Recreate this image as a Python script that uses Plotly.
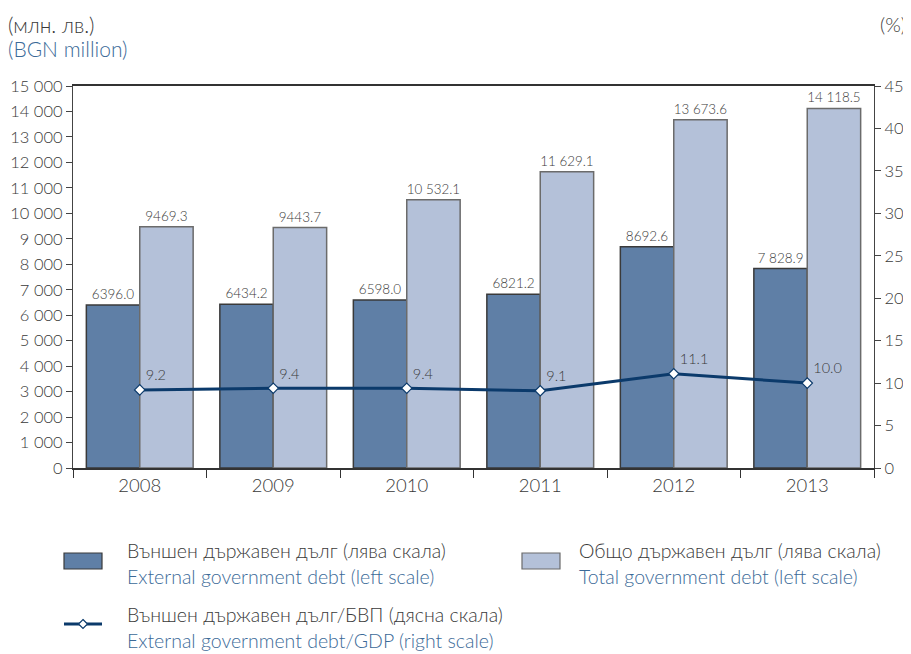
import plotly.graph_objects as go

years = ["2008", "2009", "2010", "2011", "2012", "2013"]
external_debt = [6396.0, 6434.2, 6598.0, 6821.2, 8692.6, 7828.9]
external_labels = ["6396.0", "6434.2", "6598.0", "6821.2", "8692.6", "7 828.9"]
total_debt = [9469.3, 9443.7, 10532.1, 11629.1, 13673.6, 14118.5]
total_labels = ["9469.3", "9443.7", "10 532.1", "11 629.1", "13 673.6", "14 118.5"]
ratio_gdp = [9.2, 9.4, 9.4, 9.1, 11.1, 10.0]
ratio_labels = ["9.2", "9.4", "9.4", "9.1", "11.1", "10.0"]

# page body has an 8px margin: work in reference pixels, shift by OFF
OFF = 8
W, H = 911 - OFF, 654 - OFF
L, R, T, B = 73 - OFF, 874 - OFF, 86 - OFF, 468 - OFF
FONT = "Lato"
WT = 300
GRAY = "#3a3a3a"
BLUE = "#3b6a98"
DARK_BAR = "#5f7fa6"
LIGHT_BAR = "#b4c1d9"
LINE = "#0b3a6b"


def px(x):
    return (x - OFF - L) / (R - L)


def py(y):
    return (B - (y - OFF)) / (B - T)


def f(size, color=GRAY):
    return dict(size=size, color=color, family=FONT, weight=WT)


fig = go.Figure()
fig.add_trace(go.Bar(
    x=years, y=external_debt, text=external_labels, textposition="outside",
    textfont=f(13.5),
    marker=dict(color=DARK_BAR, line=dict(color="#3a3a3a", width=1.5)),
    cliponaxis=False, name="ext"))
fig.add_trace(go.Bar(
    x=years, y=total_debt, text=total_labels, textposition="outside",
    textfont=f(13.5),
    marker=dict(color=LIGHT_BAR, line=dict(color="#6b6b6b", width=1.5)),
    cliponaxis=False, name="tot"))
fig.add_trace(go.Scatter(
    x=years, y=ratio_gdp, yaxis="y2", mode="lines+markers+text",
    text=ratio_labels, textposition="top right",
    textfont=f(14.5),
    line=dict(color=LINE, width=3),
    marker=dict(symbol="diamond", size=8, color="white", line=dict(color=LINE, width=1.2)),
    cliponaxis=False, name="ratio"))

annotations = [
    dict(x=px(6), y=py(24), xref="paper", yref="paper", text="(млн. лв.)", showarrow=False,
         xanchor="left", yanchor="middle", font=f(21)),
    dict(x=px(6), y=py(49), xref="paper", yref="paper", text="(BGN million)", showarrow=False,
         xanchor="left", yanchor="middle", font=f(21, BLUE)),
    dict(x=px(908), y=py(24), xref="paper", yref="paper", text="(%)", showarrow=False,
         xanchor="right", yanchor="middle", font=f(20)),
]

legend_items = [
    (125, 550, "Външен държавен дълг (лява скала)", GRAY),
    (125, 576, "External government debt (left scale)", BLUE),
    (577, 550, "Общо държавен дълг (лява скала)", GRAY),
    (577, 576, "Total government debt (left scale)", BLUE),
    (125, 614, "Външен държавен дълг/БВП (дясна скала)", GRAY),
    (125, 640, "External government debt/GDP (right scale)", BLUE),
]
for x0, y0, txt, col in legend_items:
    annotations.append(dict(x=px(x0), y=py(y0), xref="paper", yref="paper", text=txt,
                            showarrow=False, xanchor="left", yanchor="middle",
                            font=f(19.5, col)))

cx, cy, d = 83, 624, 4.5
diamond = "M {:.5f} {:.5f} L {:.5f} {:.5f} L {:.5f} {:.5f} L {:.5f} {:.5f} Z".format(
    px(cx), py(cy - d), px(cx + d), py(cy), px(cx), py(cy + d), px(cx - d), py(cy))
shapes = [
    dict(type="rect", xref="paper", yref="paper", x0=px(64), x1=px(102), y0=py(569), y1=py(553),
         fillcolor=DARK_BAR, line=dict(color="#3a3a3a", width=1.2)),
    dict(type="rect", xref="paper", yref="paper", x0=px(522), x1=px(560), y0=py(569), y1=py(553),
         fillcolor=LIGHT_BAR, line=dict(color="#6b6b6b", width=1.2)),
    dict(type="line", xref="paper", yref="paper", x0=px(64), x1=px(102), y0=py(624), y1=py(624),
         line=dict(color=LINE, width=3)),
    dict(type="path", xref="paper", yref="paper", path=diamond,
         fillcolor="white", line=dict(color=LINE, width=1.2)),
]

fig.update_layout(
    width=W, height=H,
    margin=dict(l=L, r=W - R, t=T, b=H - B),
    paper_bgcolor="white", plot_bgcolor="white",
    showlegend=False,
    barmode="group", bargap=0.2, bargroupgap=0,
    separators=". ",
    font=dict(family=FONT, color=GRAY, weight=WT),
    xaxis=dict(type="category", showline=True, linecolor="#333", linewidth=1.5, mirror=True,
               ticks="outside", tickson="boundaries", ticklen=8, tickcolor="#333",
               automargin=False, tickfont=f(18.5)),
    yaxis=dict(range=[0, 15000], dtick=1000, showgrid=False, zeroline=False,
               showline=True, linecolor="#444", linewidth=1.2, ticks="outside", ticklen=6,
               tickcolor="#444", separatethousands=True, exponentformat="none",
               automargin=False, tickfont=f(16.5)),
    yaxis2=dict(range=[0, 45], dtick=5, overlaying="y", side="right", showgrid=False,
                zeroline=False, showline=True, linecolor="#444", linewidth=1.2,
                ticks="outside", ticklen=6, tickcolor="#444", automargin=False,
                tickfont=f(16.5)),
    annotations=annotations, shapes=shapes,
)

fig.write_html("out.html")
